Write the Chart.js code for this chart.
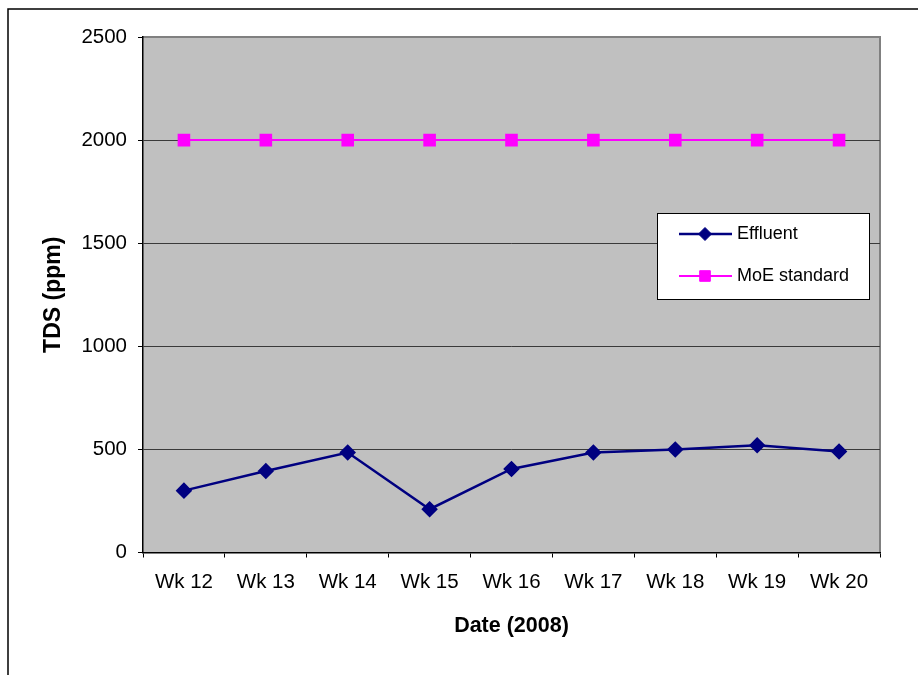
<!DOCTYPE html>
<html>
<head>
<meta charset="utf-8">
<script src="https://cdn.jsdelivr.net/npm/chart.js@4"></script>
<style>
  body { margin: 0; background: #fff; }
  #wrap { width: 918px; height: 675px; }
</style>
</head>
<body>
<div id="wrap"><canvas id="tds" width="918" height="675"></canvas></div>
<script>
// data
const weeks = ['Wk 12', 'Wk 13', 'Wk 14', 'Wk 15', 'Wk 16', 'Wk 17', 'Wk 18', 'Wk 19', 'Wk 20'];
const effluent = [300, 395, 485, 210, 405, 485, 500, 520, 490];
const moeStandard = [2000, 2000, 2000, 2000, 2000, 2000, 2000, 2000, 2000];
const yTicks = [0, 500, 1000, 1500, 2000, 2500];

const FONT = "'Liberation Sans', Arial, sans-serif";

// grey plot area + outer frame
const frame = {
  id: 'frame',
  beforeDraw(chart) {
    const ctx = chart.ctx;
    const a = chart.chartArea;
    ctx.save();
    ctx.fillStyle = '#fff';
    ctx.fillRect(0, 0, chart.width, chart.height);
    ctx.strokeStyle = '#000';
    ctx.lineWidth = 1.5;
    ctx.beginPath();
    ctx.moveTo(8, 675);
    ctx.lineTo(8, 9);
    ctx.lineTo(918, 9);
    ctx.stroke();
    ctx.fillStyle = '#c0c0c0';
    ctx.fillRect(a.left, a.top, a.right - a.left, a.bottom - a.top);
    ctx.strokeStyle = '#808080';
    ctx.lineWidth = 2;
    ctx.beginPath();
    ctx.moveTo(a.left, a.top);
    ctx.lineTo(a.right, a.top);
    ctx.lineTo(a.right, a.bottom);
    ctx.stroke();
    ctx.restore();
  }
};

// legend box inside the plot
const boxLegend = {
  id: 'boxLegend',
  afterDraw(chart) {
    const ctx = chart.ctx;
    const x0 = 657, y0 = 213, w = 212, h = 86;
    ctx.save();
    ctx.fillStyle = '#fff';
    ctx.fillRect(x0, y0, w, h);
    ctx.strokeStyle = '#000';
    ctx.lineWidth = 1;
    ctx.strokeRect(x0 + 0.5, y0 + 0.5, w, h);
    chart.data.datasets.forEach((ds, i) => {
      const y = 234 + i * 42;
      ctx.strokeStyle = ds.borderColor;
      ctx.lineWidth = ds.borderWidth;
      ctx.beginPath();
      ctx.moveTo(679, y);
      ctx.lineTo(732, y);
      ctx.stroke();
      ctx.fillStyle = ds.pointBackgroundColor;
      ctx.strokeStyle = ds.pointBorderColor;
      ctx.lineWidth = 1;
      Chart.helpers.drawPoint(ctx, {
        pointStyle: ds.pointStyle, radius: ds.pointRadius, borderWidth: 1
      }, 705, y);
      ctx.fillStyle = '#000';
      ctx.font = '18px ' + FONT;
      ctx.textBaseline = 'middle';
      ctx.fillText(ds.label, 737, y);
    });
    ctx.restore();
  }
};

new Chart(document.getElementById('tds'), {
  type: 'line',
  data: {
    labels: weeks,
    datasets: [{
      label: 'Effluent',
      data: effluent,
      borderColor: '#000080',
      backgroundColor: '#000080',
      pointBackgroundColor: '#000080',
      pointBorderColor: '#000080',
      borderWidth: 2.5,
      pointStyle: 'rectRot',
      pointRadius: 6.5,
      tension: 0
    }, {
      label: 'MoE standard',
      data: moeStandard,
      borderColor: '#ff00ff',
      backgroundColor: '#ff00ff',
      pointBackgroundColor: '#ff00ff',
      pointBorderColor: '#ff00ff',
      borderWidth: 2,
      pointStyle: 'rect',
      pointRadius: 7.5,
      tension: 0
    }]
  },
  options: {
    responsive: false,
    animation: false,
    layout: { padding: { top: 37, right: 38, left: 0, bottom: 0 } },
    plugins: {
      legend: { display: false },
      tooltip: { enabled: false }
    },
    scales: {
      x: {
        offset: true,
        grid: {
          offset: true,
          drawOnChartArea: false,
          tickLength: 5,
          tickColor: '#000'
        },
        border: { color: '#000', width: 1.5 },
        ticks: {
          color: '#000',
          font: { family: FONT, size: 20.5 },
          padding: 13,
          maxRotation: 0
        },
        title: {
          display: true,
          text: 'Date (2008)',
          color: '#000',
          font: { family: FONT, size: 21.5, weight: 'bold' },
          padding: { top: 0, bottom: 36 }
        },
        afterFit(scale) { scale.height = 122.5; }
      },
      y: {
        min: 0,
        max: 2500,
        afterBuildTicks(scale) { scale.ticks = yTicks.map(v => ({ value: v })); },
        grid: {
          color: ctx => (ctx.tick && (ctx.tick.value === 0 || ctx.tick.value === 2500)) ? 'rgba(0,0,0,0)' : '#3a3a3a',
          tickColor: '#000',
          tickLength: 5,
          lineWidth: 1
        },
        border: { color: '#000', width: 1.5 },
        ticks: {
          color: '#000',
          font: { family: FONT, size: 20.5 },
          padding: 11,
          callback: v => String(v)
        },
        title: {
          display: true,
          text: 'TDS (ppm)',
          color: '#000',
          font: { family: FONT, size: 23, weight: 'bold' },
          padding: { top: 39.5, bottom: 0 }
        },
        afterFit(scale) { scale.width = 143; }
      }
    }
  },
  plugins: [frame, boxLegend]
});
</script>
</body>
</html>
